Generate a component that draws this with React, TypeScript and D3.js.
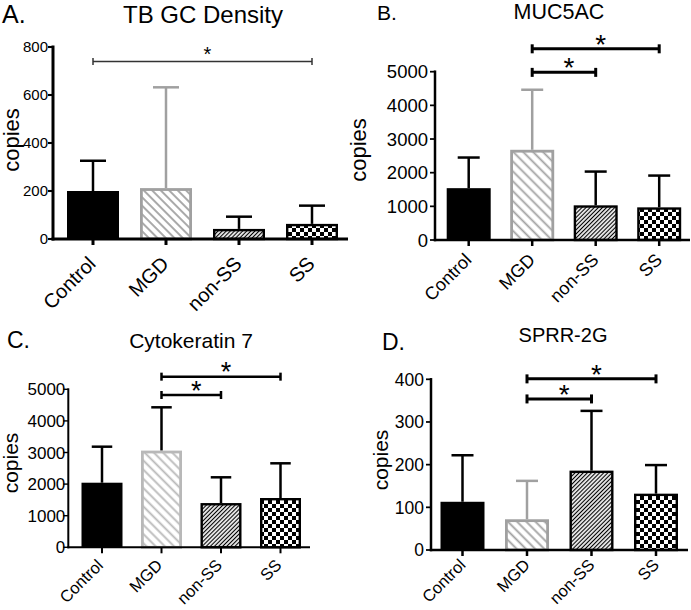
import React from "react";
import * as d3 from "d3";

const categories = ["Control", "MGD", "non-SS", "SS"];

// Panel A: TB GC Density
const tbgcMeans = [200, 212, 42, 63];
const tbgcUpper = [326, 632, 93, 139];
const tbgcTicks = [0, 200, 400, 600, 800];
const tbgcSig = [{ from: 0, to: 3, at: 740 }];

// Panel B: MUC5AC
const mucMeans = [1540, 2680, 1030, 970];
const mucUpper = [2450, 4464, 2033, 1914];
const mucTicks = [0, 1000, 2000, 3000, 4000, 5000];
const mucSig = [
  { from: 1, to: 2, at: 4980 },
  { from: 1, to: 3, at: 5680 },
];

// Panel C: Cytokeratin 7
const ckMeans = [2044, 3060, 1400, 1560];
const ckUpper = [3184, 4430, 2215, 2658];
const ckTicks = [0, 1000, 2000, 3000, 4000, 5000];
const ckSig = [
  { from: 1, to: 2, at: 4820 },
  { from: 1, to: 3, at: 5400 },
];

// Panel D: SPRR-2G
const sprrMeans = [113, 72, 186, 132];
const sprrUpper = [222, 162, 326, 199];
const sprrTicks = [0, 100, 200, 300, 400];
const sprrSig = [
  { from: 1, to: 2, at: 354 },
  { from: 1, to: 3, at: 401 },
];

const FONT = "'Liberation Sans', Arial, Helvetica, sans-serif";

type Cfg = {
  id: string;
  letter: string;
  title: string;
  letterX: number;
  letterY: number;
  letterSize: number;
  titleX: number;
  titleY: number;
  titleSize: number;
  axisX: number;
  xEnd: number;
  yZero: number;
  yTopPx: number;
  yMax: number;
  c0: number;
  step: number;
  bw: number;
  tickSize: number;
  tickGap: number;
  ylabX: number;
  ylabY: number;
  ylabSize: number;
  xlabSize: number;
  xlabDx: number;
  xlabDy: number;
  axisW: number;
  gray: string;
  mgdErr: string;
  hatchGap: number;
  starSize: number;
  starDy: number;
  sigW: number;
  sigCap: number;
  sigColor: string;
};

const cfgA: Cfg = {
  id: "a", letter: "A.", title: "TB GC Density",
  letterX: 2, letterY: 23, letterSize: 25, titleX: 203, titleY: 23, titleSize: 24,
  axisX: 53, xEnd: 348, yZero: 239, yTopPx: 47, yMax: 800,
  c0: 93, step: 73, bw: 52,
  tickSize: 15, tickGap: 5, ylabX: 19, ylabY: 140, ylabSize: 22,
  xlabSize: 20, xlabDx: 4, xlabDy: 26, axisW: 3,
  gray: "#a0a0a0", mgdErr: "#a0a0a0", hatchGap: 6, starSize: 20, starDy: 12,
  sigW: 1.5, sigCap: 7, sigColor: "#333",
};
const cfgB: Cfg = {
  id: "b", letter: "B.", title: "MUC5AC",
  letterX: 377, letterY: 20, letterSize: 21, titleX: 559, titleY: 19, titleSize: 21.5,
  axisX: 435, xEnd: 690, yZero: 240, yTopPx: 71.7, yMax: 5000,
  c0: 468.7, step: 63.5, bw: 44,
  tickSize: 18.5, tickGap: 7, ylabX: 366, ylabY: 150, ylabSize: 22,
  xlabSize: 18, xlabDx: 4, xlabDy: 21, axisW: 2.5,
  gray: "#a0a0a0", mgdErr: "#a0a0a0", hatchGap: 7, starSize: 28, starDy: 11,
  sigW: 3, sigCap: 9, sigColor: "#000",
};
const cfgC: Cfg = {
  id: "c", letter: "C.", title: "Cytokeratin 7",
  letterX: 7, letterY: 348, letterSize: 23, titleX: 191, titleY: 348, titleSize: 21,
  axisX: 68.3, xEnd: 310, yZero: 547.3, yTopPx: 389.3, yMax: 5000,
  c0: 102, step: 59.5, bw: 41,
  tickSize: 17, tickGap: 3, ylabX: 18, ylabY: 463, ylabSize: 21,
  xlabSize: 16.5, xlabDx: 2, xlabDy: 19, axisW: 2,
  gray: "#b8b8b8", mgdErr: "#000", hatchGap: 6.5, starSize: 27, starDy: 11,
  sigW: 2.5, sigCap: 8, sigColor: "#000",
};
const cfgD: Cfg = {
  id: "d", letter: "D.", title: "SPRR-2G",
  letterX: 382, letterY: 350, letterSize: 23, titleX: 563, titleY: 342, titleSize: 20,
  axisX: 431, xEnd: 688, yZero: 550, yTopPx: 379.3, yMax: 400,
  c0: 462.5, step: 64.5, bw: 44,
  tickSize: 17.5, tickGap: 7, ylabX: 388, ylabY: 460, ylabSize: 21,
  xlabSize: 16.5, xlabDx: 4, xlabDy: 16, axisW: 2.5,
  gray: "#a0a0a0", mgdErr: "#a0a0a0", hatchGap: 6.5, starSize: 28, starDy: 11,
  sigW: 3, sigCap: 9, sigColor: "#000",
};

type Sig = { from: number; to: number; at: number };

function Panel({ cfg, means, upper, ticks, sig }: { cfg: Cfg; means: number[]; upper: number[]; ticks: number[]; sig: Sig[] }) {
  const p = 1 - cfg.bw / cfg.step;
  const start = cfg.c0 - cfg.step / 2;
  const x = d3
    .scaleBand<string>()
    .domain(categories)
    .range([start, start + cfg.step * categories.length])
    .paddingInner(p)
    .paddingOuter(p / 2);
  const y = d3.scaleLinear().domain([0, cfg.yMax]).range([cfg.yZero, cfg.yTopPx]);
  const bw = x.bandwidth();
  const cx = (c: string) => (x(c) as number) + bw / 2;

  const grayId = `mgd-${cfg.id}`;
  const hatchId = `nss-${cfg.id}`;
  const checkId = `ss-${cfg.id}`;

  const fills = ["#000", `url(#${grayId})`, `url(#${hatchId})`, `url(#${checkId})`];
  const strokes = ["#000", cfg.gray, "#000", "#000"];
  const errColors = ["#000", cfg.mgdErr, "#000", "#000"];
  const g = cfg.hatchGap;

  return (
    <g fontFamily={FONT}>
      <defs>
        <pattern id={grayId} patternUnits="userSpaceOnUse" width={g} height={g} patternTransform="rotate(45)">
          <rect width={g} height={g} fill="#fff" />
          <line x1={0} y1={g / 2} x2={g} y2={g / 2} stroke={cfg.gray} strokeWidth={1.8} />
        </pattern>
        <pattern id={hatchId} patternUnits="userSpaceOnUse" width={2.9} height={2.9} patternTransform="rotate(-45)">
          <rect width={2.9} height={2.9} fill="#fff" />
          <line x1={0} y1={1.45} x2={2.9} y2={1.45} stroke="#000" strokeWidth={1.2} />
        </pattern>
        <pattern id={checkId} patternUnits="userSpaceOnUse" width={8} height={8}>
          <rect width={8} height={8} fill="#fff" />
          <rect x={0} y={0} width={4} height={4} fill="#000" />
          <rect x={4} y={4} width={4} height={4} fill="#000" />
        </pattern>
      </defs>

      <text x={cfg.letterX} y={cfg.letterY} fontSize={cfg.letterSize}>{cfg.letter}</text>
      <text x={cfg.titleX} y={cfg.titleY} fontSize={cfg.titleSize} textAnchor="middle">{cfg.title}</text>

      {/* error bars */}
      {categories.map((c, i) => (
        <g key={`e${c}`} stroke={errColors[i]} strokeWidth={2.5}>
          <line x1={cx(c)} x2={cx(c)} y1={y(means[i])} y2={y(upper[i])} />
          <line x1={cx(c) - bw / 4} x2={cx(c) + bw / 4} y1={y(upper[i])} y2={y(upper[i])} />
        </g>
      ))}

      {/* bars */}
      {categories.map((c, i) => {
        const sw = i === 0 ? 0 : i === 1 ? 2.8 : 2.4;
        return (
          <rect
            key={`b${c}`}
            x={(x(c) as number) + sw / 2}
            y={y(means[i]) + sw / 2}
            width={bw - sw}
            height={cfg.yZero - y(means[i]) - sw / 2}
            fill={fills[i]}
            stroke={i === 0 ? "none" : strokes[i]}
            strokeWidth={sw}
          />
        );
      })}

      {/* y axis */}
      <line x1={cfg.axisX} x2={cfg.axisX} y1={cfg.yZero + cfg.axisW / 2} y2={y(cfg.yMax) - cfg.axisW / 2} stroke="#000" strokeWidth={cfg.axisW} />
      {ticks.map((t) => (
        <g key={`yt${t}`}>
          <line x1={cfg.axisX - 5} x2={cfg.axisX} y1={y(t)} y2={y(t)} stroke="#000" strokeWidth={cfg.axisW * 0.7} />
          <text x={cfg.axisX - cfg.tickGap} y={y(t)} dy="0.36em" fontSize={cfg.tickSize} textAnchor="end">{t}</text>
        </g>
      ))}
      <text
        transform={`translate(${cfg.ylabX},${cfg.ylabY}) rotate(-90)`}
        fontSize={cfg.ylabSize}
        textAnchor="middle"
      >copies</text>

      {/* x axis */}
      <line x1={cfg.axisX - cfg.axisW / 2} x2={cfg.xEnd} y1={cfg.yZero} y2={cfg.yZero} stroke="#000" strokeWidth={cfg.axisW} />
      {categories.map((c) => (
        <g key={`xt${c}`}>
          <line x1={cx(c)} x2={cx(c)} y1={cfg.yZero} y2={cfg.yZero + 6} stroke="#000" strokeWidth={cfg.axisW} />
          <text
            transform={`translate(${cx(c) + cfg.xlabDx},${cfg.yZero + cfg.xlabDy}) rotate(-45)`}
            fontSize={cfg.xlabSize}
            textAnchor="end"
          >{c}</text>
        </g>
      ))}

      {/* significance brackets */}
      {sig.map((s, k) => {
        const x1 = cx(categories[s.from]);
        const x2 = cx(categories[s.to]);
        const yy = y(s.at);
        return (
          <g key={`s${k}`} stroke={cfg.sigColor} strokeWidth={cfg.sigW}>
            <line x1={x1} x2={x2} y1={yy} y2={yy} />
            <line x1={x1} x2={x1} y1={yy - cfg.sigCap / 2} y2={yy + cfg.sigCap / 2} />
            <line x1={x2} x2={x2} y1={yy - cfg.sigCap / 2} y2={yy + cfg.sigCap / 2} />
            <text
              x={(x1 + x2) / 2 + 5}
              y={yy - cfg.starDy + cfg.starSize * 0.575}
              fontSize={cfg.starSize}
              textAnchor="middle"
              stroke="none"
              fill="#000"
            >*</text>
          </g>
        );
      })}
    </g>
  );
}

export default function App() {
  return (
    <svg
      width={691}
      height={610}
      viewBox="0 0 691 610"
      style={{ position: "absolute", left: 0, top: 0, background: "#fff" }}
    >
      <rect width={691} height={610} fill="#fff" />
      <Panel cfg={cfgA} means={tbgcMeans} upper={tbgcUpper} ticks={tbgcTicks} sig={tbgcSig} />
      <Panel cfg={cfgB} means={mucMeans} upper={mucUpper} ticks={mucTicks} sig={mucSig} />
      <Panel cfg={cfgC} means={ckMeans} upper={ckUpper} ticks={ckTicks} sig={ckSig} />
      <Panel cfg={cfgD} means={sprrMeans} upper={sprrUpper} ticks={sprrTicks} sig={sprrSig} />
    </svg>
  );
}
